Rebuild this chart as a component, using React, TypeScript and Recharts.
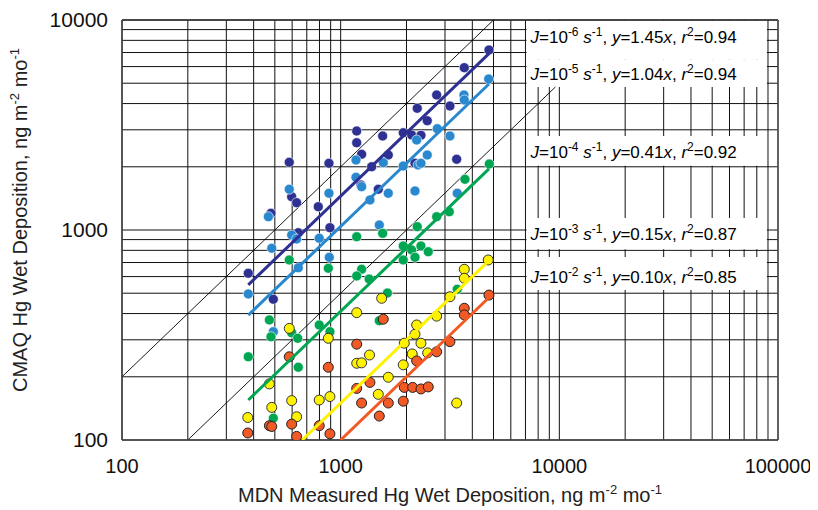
import React from 'react';
import {
  ScatterChart,
  Scatter,
  XAxis,
  YAxis,
  CartesianGrid,
  ReferenceLine,
  ReferenceArea,
  Label,
} from 'recharts';

// ---------- tick values ----------
const xTicks = [
  100, 200, 300, 400, 500, 600, 700, 800, 900,
  1000, 2000, 3000, 4000, 5000, 6000, 7000, 8000, 9000,
  10000, 20000, 30000, 40000, 50000, 60000, 70000, 80000, 90000, 100000,
];
const yTicks = [
  100, 200, 300, 400, 500, 600, 700, 800, 900,
  1000, 2000, 3000, 4000, 5000, 6000, 7000, 8000, 9000, 10000,
];
const majorTicks = [100, 1000, 10000, 100000];

// ---------- scatter data (MDN measured, CMAQ modelled) ----------
const darkBlue = [
  { x: 378, y: 622 }, { x: 492, y: 468 }, { x: 480, y: 1201 }, { x: 582, y: 2101 },
  { x: 597, y: 1441 }, { x: 629, y: 1349 }, { x: 640, y: 971 }, { x: 790, y: 1291 },
  { x: 884, y: 2078 }, { x: 893, y: 1026 }, { x: 1184, y: 2960 }, { x: 1184, y: 2604 },
  { x: 1247, y: 2293 }, { x: 1238, y: 1638 }, { x: 1386, y: 2001 }, { x: 1486, y: 1563 },
  { x: 1556, y: 2803 }, { x: 1651, y: 2276 }, { x: 1933, y: 2905 }, { x: 2112, y: 2834 },
  { x: 2329, y: 2825 }, { x: 2187, y: 2078 }, { x: 2240, y: 3797 }, { x: 2489, y: 3315 },
  { x: 2748, y: 4394 }, { x: 3160, y: 3893 }, { x: 3392, y: 2171 }, { x: 3676, y: 5929 },
  { x: 4767, y: 7194 },
];
const lightBlue = [
  { x: 378, y: 496 }, { x: 467, y: 1157 }, { x: 484, y: 818 }, { x: 492, y: 328 },
  { x: 582, y: 1563 }, { x: 597, y: 947 }, { x: 629, y: 906 }, { x: 640, y: 661 },
  { x: 798, y: 913 }, { x: 884, y: 1496 }, { x: 887, y: 741 }, { x: 1175, y: 2154 },
  { x: 1175, y: 1782 }, { x: 1247, y: 1608 }, { x: 1361, y: 1390 }, { x: 1502, y: 1056 },
  { x: 1566, y: 2092 }, { x: 1651, y: 1496 }, { x: 1933, y: 2017 }, { x: 2260, y: 2040 },
  { x: 2329, y: 2078 }, { x: 2187, y: 1534 }, { x: 2226, y: 2683 }, { x: 2489, y: 2276 },
  { x: 2766, y: 3037 }, { x: 3160, y: 2803 }, { x: 3413, y: 1496 }, { x: 3663, y: 4394 },
  { x: 3676, y: 4159 }, { x: 4751, y: 5236 },
];
const green = [
  { x: 378, y: 249 }, { x: 472, y: 373 }, { x: 480, y: 310 }, { x: 492, y: 127 },
  { x: 582, y: 720 }, { x: 597, y: 324 }, { x: 636, y: 305 }, { x: 640, y: 222 },
  { x: 798, y: 353 }, { x: 878, y: 657 }, { x: 893, y: 328 }, { x: 1184, y: 929 },
  { x: 1247, y: 650 }, { x: 1184, y: 604 }, { x: 1350, y: 584 }, { x: 1556, y: 964 },
  { x: 1636, y: 501 }, { x: 1502, y: 370 }, { x: 1933, y: 839 }, { x: 2112, y: 803 },
  { x: 2329, y: 839 }, { x: 2515, y: 788 }, { x: 1933, y: 720 }, { x: 2187, y: 741 },
  { x: 2240, y: 1037 }, { x: 2748, y: 1157 }, { x: 3138, y: 1222 }, { x: 3413, y: 522 },
  { x: 3702, y: 1743 }, { x: 4783, y: 2062 },
];
const yellow = [
  { x: 376, y: 128 }, { x: 472, y: 185 }, { x: 484, y: 143 }, { x: 582, y: 340 },
  { x: 597, y: 154 }, { x: 629, y: 129 }, { x: 798, y: 155 }, { x: 878, y: 305 },
  { x: 893, y: 161 }, { x: 1184, y: 404 }, { x: 1184, y: 232 }, { x: 1247, y: 233 },
  { x: 1355, y: 254 }, { x: 1540, y: 473 }, { x: 1651, y: 199 }, { x: 1486, y: 165 },
  { x: 1933, y: 228 }, { x: 1954, y: 289 }, { x: 2124, y: 257 }, { x: 2187, y: 319 },
  { x: 2226, y: 353 }, { x: 2329, y: 289 }, { x: 2500, y: 260 }, { x: 2748, y: 389 },
  { x: 3160, y: 481 }, { x: 3392, y: 150 }, { x: 3676, y: 650 }, { x: 3676, y: 589 },
  { x: 4731, y: 720 },
];
const orange = [
  { x: 376, y: 108 }, { x: 472, y: 117 }, { x: 484, y: 116 }, { x: 582, y: 249 },
  { x: 597, y: 119 }, { x: 629, y: 104 }, { x: 798, y: 117 }, { x: 878, y: 222 },
  { x: 893, y: 107 }, { x: 1184, y: 286 }, { x: 1184, y: 176 }, { x: 1247, y: 150 },
  { x: 1361, y: 188 }, { x: 1502, y: 130 }, { x: 1566, y: 376 }, { x: 1651, y: 150 },
  { x: 1933, y: 153 }, { x: 1954, y: 178 }, { x: 2134, y: 178 }, { x: 2226, y: 238 },
  { x: 2329, y: 175 }, { x: 2515, y: 179 }, { x: 2748, y: 263 }, { x: 3160, y: 294 },
  { x: 3676, y: 424 }, { x: 3676, y: 394 }, { x: 4767, y: 490 },
];

// ---------- regression line end points ----------
const darkBlueFit = [{ x: 378, y: 548 }, { x: 4766, y: 6911 }];
const lightBlueFit = [{ x: 378, y: 393 }, { x: 4766, y: 4957 }];
const greenFit = [{ x: 378, y: 155 }, { x: 4766, y: 1954 }];
const yellowFit = [{ x: 667, y: 100 }, { x: 4766, y: 715 }];
const orangeFit = [{ x: 1000, y: 100 }, { x: 4766, y: 477 }];

// ---------- reference (2:1 and 1:2) lines ----------
const twoToOne = [{ x: 100, y: 200 }, { x: 5000, y: 10000 }];
const oneToTwo = [{ x: 200, y: 100 }, { x: 9600, y: 4800 }];

// ---------- annotation text ----------
const jExps = ['-6', '-5', '-4', '-3', '-2'];
const slopes = ['1.45', '1.04', '0.41', '0.15', '0.10'];
const r2s = ['0.94', '0.94', '0.92', '0.87', '0.85'];

const FONT = '"Liberation Sans", Arial, Helvetica, sans-serif';

const COLORS = {
  darkBlue: '#2E3192',
  lightBlue: '#2A88CF',
  green: '#00A651',
  yellow: '#FFF200',
  orange: '#F15A24',
};

const makeDot = (fill: string, stroke: string, sw: number) => (props: any) => {
  const { cx, cy } = props;
  if (cx == null || cy == null) return <g />;
  return <circle cx={cx} cy={cy} r={5} fill={fill} stroke={stroke} strokeWidth={sw} />;
};

const noShape = () => <g />;

function EqText({ x, y, i }: { x: number; y: number; i: number }) {
  const sup = 12;
  const up = -7;
  return (
    <text x={x} y={y} fontSize={17} fill="#000" fontFamily={FONT}>
      <tspan fontStyle="italic">J</tspan>
      <tspan>=10</tspan>
      <tspan fontSize={sup} dy={up}>{jExps[i]}</tspan>
      <tspan dy={-up}>{' '}</tspan>
      <tspan fontStyle="italic">s</tspan>
      <tspan fontSize={sup} dy={up}>-1</tspan>
      <tspan dy={-up}>{', '}</tspan>
      <tspan fontStyle="italic">y</tspan>
      <tspan>{'=' + slopes[i]}</tspan>
      <tspan fontStyle="italic">x</tspan>
      <tspan>{', '}</tspan>
      <tspan fontStyle="italic">r</tspan>
      <tspan fontSize={sup} dy={up}>2</tspan>
      <tspan dy={-up}>{'=' + r2s[i]}</tspan>
    </text>
  );
}

const boxLabel = (i: number, offset: number) => (p: any) => {
  const vb = p.viewBox || {};
  return <EqText x={(vb.x ?? 0) + 4} y={(vb.y ?? 0) + offset} i={i} />;
};

const XTitle = (p: any) => {
  const vb = p.viewBox || {};
  const cx = (vb.x ?? 0) + (vb.width ?? 0) / 2;
  const y = (vb.y ?? 0) + 62;
  return (
    <text x={cx} y={y} textAnchor="middle" fontSize={20} fill="#222" fontFamily={FONT}>
      <tspan>MDN Measured Hg Wet Deposition, ng m</tspan>
      <tspan fontSize={13} dy={-8}>-2</tspan>
      <tspan dy={8}> mo</tspan>
      <tspan fontSize={13} dy={-8}>-1</tspan>
    </text>
  );
};

const YTitle = (p: any) => {
  const vb = p.viewBox || {};
  const cy = (vb.y ?? 0) + (vb.height ?? 0) / 2 - 10;
  const x = 19;
  return (
    <text
      x={x}
      y={cy}
      transform={`rotate(-90, ${x}, ${cy})`}
      textAnchor="middle"
      fontSize={20}
      fill="#222"
      fontFamily={FONT}
    >
      <tspan>CMAQ Hg Wet Deposition, ng m</tspan>
      <tspan fontSize={13} dy={-8}>-2</tspan>
      <tspan dy={8}> mo</tspan>
      <tspan fontSize={13} dy={-8}>-1</tspan>
    </text>
  );
};

const fmt = (v: number) => (majorTicks.includes(v) ? String(v) : '');

export default function App() {
  return (
    <div style={{ width: 810, height: 502, fontFamily: FONT }}>
      <ScatterChart
        width={810}
        height={502}
        margin={{ top: 12, right: 40, bottom: 0, left: 0 }}
      >
        <CartesianGrid stroke="#111" strokeWidth={1} />
        <XAxis
          type="number"
          dataKey="x"
          scale="log"
          domain={[100, 100000]}
          allowDataOverflow
          ticks={xTicks}
          interval={0}
          tickFormatter={fmt}
          tickLine={false}
          tickMargin={13}
          height={70}
          axisLine={{ stroke: '#444', strokeWidth: 1.5 }}
          tick={{ fontSize: 20, fill: '#111', fontFamily: FONT }}
        >
          <Label content={XTitle} />
        </XAxis>
        <YAxis
          type="number"
          dataKey="y"
          scale="log"
          domain={[100, 10000]}
          allowDataOverflow
          ticks={yTicks}
          interval={0}
          tickFormatter={fmt}
          tickLine={false}
          tickMargin={8}
          width={114}
          axisLine={{ stroke: '#444', strokeWidth: 1.5 }}
          tick={{ fontSize: 21, fill: '#111', fontFamily: FONT }}
        >
          <Label content={YTitle} />
        </YAxis>

        {/* white annotation boxes */}
        <ReferenceArea x1={7080} x2={89000} y1={6500} y2={9900} fill="#fff" fillOpacity={1} stroke="none" ifOverflow="visible">
          <Label content={boxLabel(0, 22.4)} />
        </ReferenceArea>
        <ReferenceArea x1={7080} x2={89000} y1={4800} y2={6500} fill="#fff" fillOpacity={1} stroke="none" ifOverflow="visible">
          <Label content={boxLabel(1, 20.7)} />
        </ReferenceArea>
        <ReferenceArea x1={7080} x2={89000} y1={2025} y2={2806} fill="#fff" fillOpacity={1} stroke="none" ifOverflow="visible">
          <Label content={boxLabel(2, 22.4)} />
        </ReferenceArea>
        <ReferenceArea x1={7080} x2={89000} y1={810} y2={1140} fill="#fff" fillOpacity={1} stroke="none" ifOverflow="visible">
          <Label content={boxLabel(3, 22)} />
        </ReferenceArea>
        <ReferenceArea x1={7080} x2={89000} y1={518} y2={743} fill="#fff" fillOpacity={1} stroke="none" ifOverflow="visible">
          <Label content={boxLabel(4, 26)} />
        </ReferenceArea>

        <ReferenceLine y={10000} stroke="#333" strokeWidth={1.5} />
        <ReferenceLine x={100000} stroke="#555" strokeWidth={1.5} />

        <ReferenceLine segment={twoToOne} stroke="#000" strokeWidth={0.9} ifOverflow="visible" />
        <ReferenceLine segment={oneToTwo} stroke="#000" strokeWidth={0.9} ifOverflow="visible" />

        <Scatter data={darkBlue} shape={makeDot(COLORS.darkBlue, '#fff', 0.6)} isAnimationActive={false} />
        <Scatter data={lightBlue} shape={makeDot(COLORS.lightBlue, '#fff', 0.6)} isAnimationActive={false} />
        <Scatter data={green} shape={makeDot(COLORS.green, '#fff', 0.6)} isAnimationActive={false} />
        <Scatter data={yellow} shape={makeDot(COLORS.yellow, '#333', 1)} isAnimationActive={false} />
        <Scatter data={orange} shape={makeDot(COLORS.orange, '#222', 1)} isAnimationActive={false} />

        <Scatter data={darkBlueFit} line={{ stroke: COLORS.darkBlue, strokeWidth: 3 }} shape={noShape} isAnimationActive={false} />
        <Scatter data={lightBlueFit} line={{ stroke: COLORS.lightBlue, strokeWidth: 3 }} shape={noShape} isAnimationActive={false} />
        <Scatter data={greenFit} line={{ stroke: COLORS.green, strokeWidth: 3 }} shape={noShape} isAnimationActive={false} />
        <Scatter data={yellowFit} line={{ stroke: COLORS.yellow, strokeWidth: 3 }} shape={noShape} isAnimationActive={false} />
        <Scatter data={orangeFit} line={{ stroke: COLORS.orange, strokeWidth: 3 }} shape={noShape} isAnimationActive={false} />
      </ScatterChart>
    </div>
  );
}
